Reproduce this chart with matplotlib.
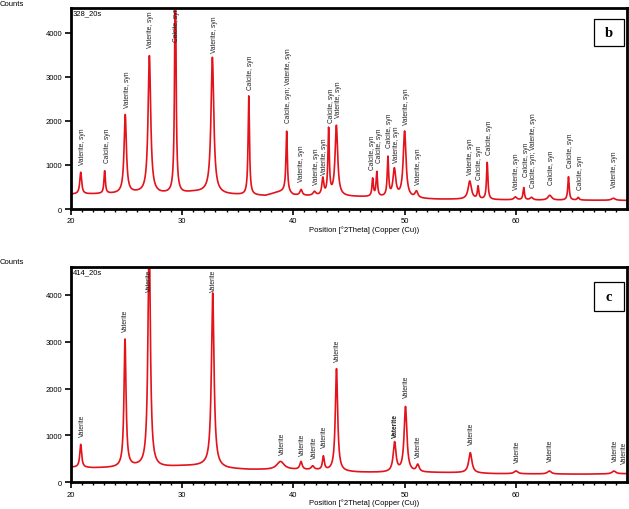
import numpy as np
import matplotlib
matplotlib.use("Agg")
import matplotlib.pyplot as plt
from matplotlib.patches import Rectangle
from matplotlib.ticker import MultipleLocator

plt.rcParams['font.family'] = ['Liberation Sans', 'DejaVu Sans']

# ---- panel b: sample 328_20s ----
b_bg_pos = [20, 22, 24, 26, 28, 30, 31, 32, 34, 36, 37.5, 38.5, 39.2, 40, 41, 44, 46, 48, 51, 53, 56, 58, 62, 66, 70]
b_bg_counts = [335, 340, 345, 360, 340, 350, 380, 380, 330, 310, 300, 370, 400, 310, 295, 285, 275, 265, 235, 220, 220, 210, 200, 200, 195]

b_peak_pos = [20.9, 23.05, 24.9, 27.07, 29.4, 32.73, 36.0, 39.4, 40.7, 41.9, 42.65, 43.17, 43.87,
              47.13, 47.5, 48.5, 49.08, 50.0, 51.06, 55.85, 56.6, 57.42, 59.95, 60.7, 61.4,
              63.04, 64.72, 65.6, 68.75]
b_peak_counts = [830, 855, 2130, 3470, 5600, 3440, 2560, 1760, 430, 380, 670, 1780, 1880,
                 670, 820, 1140, 880, 1750, 380, 630, 500, 1050, 270, 480, 260,
                 310, 730, 260, 245]
b_peak_fwhm = [0.2, 0.15, 0.25, 0.28, 0.15, 0.3, 0.15, 0.15, 0.25, 0.3, 0.2, 0.15, 0.28,
               0.15, 0.15, 0.15, 0.3, 0.3, 0.3, 0.35, 0.15, 0.15, 0.3, 0.15, 0.3,
               0.4, 0.15, 0.2, 0.4]

b_label_pos = [21.1, 23.29, 25.09, 27.19, 29.52, 32.96, 36.17, 39.55, 40.75, 42.10, 42.76, 43.45, 44.04,
               47.1, 47.75, 48.62, 49.23, 50.19, 51.23, 55.94, 56.77, 57.61, 60.07, 60.91, 61.56,
               63.22, 64.92, 65.76, 68.84]
b_label_counts = [1023, 1068, 2318, 3682, 3818, 3568, 2727, 1977, 636, 568, 795, 1977, 2091,
                  909, 1068, 1409, 1068, 1932, 568, 795, 682, 1250, 455, 750, 500,
                  568, 955, 455, 500]
b_label_text = ['Vaterite, syn', 'Calcite, syn', 'Vaterite, syn', 'Vaterite, syn', 'Calcite, syn',
                'Vaterite, syn', 'Calcite, syn', 'Calcite, syn; Vaterite, syn', 'Vaterite, syn',
                'Vaterite, syn', 'Vaterite, syn', 'Calcite, syn', 'Vaterite, syn',
                'Calcite, syn', 'Calcite, syn', 'Calcite, syn', 'Vaterite, syn', 'Vaterite, syn',
                'Vaterite, syn', 'Vaterite, syn', 'Calcite, syn', 'Calcite, syn', 'Vaterite, syn',
                'Calcite, syn', 'Calcite, syn; Vaterite, syn', 'Calcite, syn', 'Calcite, syn',
                'Calcite, syn', 'Vaterite, syn']

# ---- panel c: sample 414_20s ----
c_bg_pos = [20, 22, 24, 26, 28, 30, 32, 34, 36, 38, 40, 42, 44, 46, 48, 52, 55, 58, 62, 66, 70]
c_bg_counts = [320, 305, 310, 330, 320, 345, 350, 290, 270, 265, 265, 255, 225, 212, 208, 208, 203, 183, 178, 173, 183]

c_peak_pos = [20.9, 24.88, 27.05, 32.76, 38.85, 40.69, 41.74, 42.7, 43.88, 49.1, 50.08, 51.18,
              55.9, 60.0, 63.0, 68.8]
c_peak_counts = [805, 3040, 5400, 4040, 440, 430, 335, 535, 2420, 835, 1600, 360,
                 630, 240, 240, 240]
c_peak_fwhm = [0.2, 0.22, 0.25, 0.28, 0.8, 0.25, 0.3, 0.2, 0.25, 0.3, 0.3, 0.3,
               0.35, 0.4, 0.4, 0.4]

# two Vaterite labels sit on top of each other near 49.2 -> drawn once, in bold
c_label_pos = [21.08, 24.94, 27.06, 32.85, 39.01, 40.81, 41.89, 42.82, 43.99, 49.2,
               50.19, 51.23, 55.97, 60.13, 63.13, 68.93, 69.71]
c_label_counts = [995, 3237, 4091, 4091, 604, 589, 519, 747, 2597, 974,
                  1815, 534, 818, 427, 448, 448, 406]
c_label_text = ['Vaterite'] * len(c_label_pos)
c_label_bold = [49.2]

line_color = '#e3121b'


def pattern(x, bg_pos, bg_counts, pos, counts, fwhm):
    bg = np.interp(x, bg_pos, bg_counts)
    y = bg.copy()
    for p, h, w in zip(pos, counts, fwhm):
        amp = h - np.interp(p, bg_pos, bg_counts)
        y += amp / (1 + (2 * (x - p) / w) ** 2)
    return y


def draw_panel(ax, bg_pos, bg_counts, pos, counts, fwhm, lab_pos, lab_counts, lab_text,
               ymax, sample, letter, bold=()):
    x = np.arange(20, 70.0, 0.01)
    ax.plot(x, pattern(x, bg_pos, bg_counts, pos, counts, fwhm), color=line_color, lw=1.2)
    for lx, ly, t in zip(lab_pos, lab_counts, lab_text):
        ax.text(lx, ly, t, rotation=90, ha='center', va='bottom', fontsize=4.8, color='#222222',
                fontweight='bold' if lx in bold else 'normal')
    ax.set_xlim(20, 69.95)
    ax.set_ylim(0, ymax)
    ax.xaxis.set_major_locator(MultipleLocator(10))
    ax.xaxis.set_minor_locator(MultipleLocator(1))
    ax.yaxis.set_major_locator(MultipleLocator(1000))
    ax.tick_params(axis='both', which='major', length=4, width=1.2, labelsize=5.5, pad=2)
    ax.tick_params(axis='x', which='minor', length=2.5, width=1.0)
    for s in ax.spines.values():
        s.set_linewidth(2.0)
    ax.text(0.004, 0.995, sample, transform=ax.transAxes, ha='left', va='top', fontsize=5.5)
    ax.add_patch(Rectangle((0.941, letter[1]), 0.054, letter[2], transform=ax.transAxes,
                           fill=False, lw=0.9, color='black', clip_on=False))
    ax.text(0.968, letter[1] + letter[2] / 2, letter[0], transform=ax.transAxes,
            ha='center', va='center', fontsize=10.5, fontweight='bold',
            family=['Liberation Serif', 'DejaVu Serif'])


fig = plt.figure(figsize=(6.29, 5.10), dpi=100)
ax_b = fig.add_axes([0.1124, 0.5882, 0.8839, 0.3936])
ax_c = fig.add_axes([0.1124, 0.0524, 0.8839, 0.4215])

draw_panel(ax_b, b_bg_pos, b_bg_counts, b_peak_pos, b_peak_counts, b_peak_fwhm,
           b_label_pos, b_label_counts, b_label_text, 4560, '328_20s', ('b', 0.812, 0.135))
draw_panel(ax_c, c_bg_pos, c_bg_counts, c_peak_pos, c_peak_counts, c_peak_fwhm,
           c_label_pos, c_label_counts, c_label_text, 4590, '414_20s', ('c', 0.797, 0.135),
           bold=c_label_bold)

fig.text(0.0, 1 - 5 / 510, 'Counts', ha='left', va='center', fontsize=5.5)
fig.text(0.0, 1 - 263 / 510, 'Counts', ha='left', va='center', fontsize=5.5)
fig.text(364 / 629, 1 - 230 / 510, 'Position [°2Theta] (Copper (Cu))', ha='center', va='center', fontsize=5.5)
fig.text(364 / 629, 1 - 503 / 510, 'Position [°2Theta] (Copper (Cu))', ha='center', va='center', fontsize=5.5)

fig.savefig('out.png', dpi=100)
